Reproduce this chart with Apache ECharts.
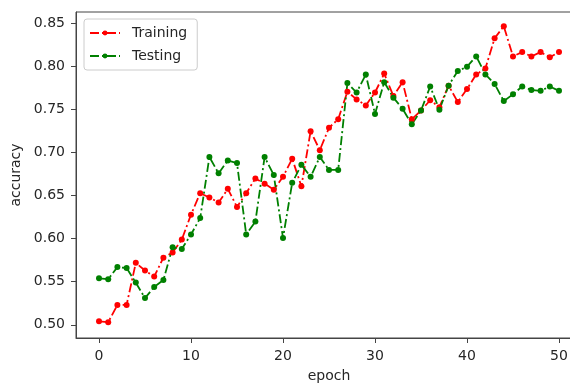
<!DOCTYPE html>
<html>
<head>
<meta charset="utf-8">
<script src="https://cdn.jsdelivr.net/npm/echarts@6/dist/echarts.min.js"></script>
<style>
  html, body { margin: 0; padding: 0; background: #fff; overflow: hidden; }
  #ChartDom { width: 600px; height: 388px; }
</style>
</head>
<body>
<div id="ChartDom"></div>
<script>
// epochs and accuracies
const epochs = [0, 1, 2, 3, 4, 5, 6, 7, 8, 9, 10, 11, 12, 13, 14, 15, 16, 17, 18, 19, 20,
  21, 22, 23, 24, 25, 26, 27, 28, 29, 30, 31, 32, 33, 34, 35, 36, 37, 38, 39, 40,
  41, 42, 43, 44, 45, 46, 47, 48, 49, 50]
const training = [0.504, 0.503, 0.523, 0.523, 0.572, 0.563, 0.556, 0.578, 0.584, 0.599, 0.628,
  0.653, 0.648, 0.642, 0.658, 0.637, 0.653, 0.670, 0.664, 0.657, 0.672,
  0.693, 0.661, 0.725, 0.703, 0.729, 0.739, 0.771, 0.762, 0.755, 0.770,
  0.792, 0.766, 0.782, 0.739, 0.749, 0.761, 0.753, 0.778, 0.759, 0.774,
  0.791, 0.798, 0.833, 0.847, 0.812, 0.817, 0.812, 0.817, 0.811, 0.817]
const testing = [0.554, 0.553, 0.567, 0.566, 0.549, 0.531, 0.544, 0.552, 0.590, 0.588, 0.605,
  0.624, 0.695, 0.676, 0.691, 0.688, 0.605, 0.620, 0.695, 0.674, 0.601,
  0.665, 0.686, 0.672, 0.695, 0.680, 0.680, 0.781, 0.770, 0.791, 0.745,
  0.782, 0.764, 0.751, 0.733, 0.749, 0.777, 0.750, 0.778, 0.795, 0.800,
  0.812, 0.791, 0.780, 0.760, 0.768, 0.777, 0.773, 0.772, 0.777, 0.772]
const xTicks = [0, 10, 20, 30, 40, 50]
const yTicks = [0.50, 0.55, 0.60, 0.65, 0.70, 0.75, 0.80, 0.85]

const font = "DejaVu Sans"
const textColor = "#262626"
const spineColor = "#444"
const dashDot = [9, 3, 2, 3]

const chart = echarts.init(document.getElementById("ChartDom"))

function pairs(ys) {
  return epochs.map((e, i) => [e, ys[i]])
}

chart.setOption({
  animation: false,
  textStyle: { fontFamily: font },
  legend: {
    orient: "vertical",
    left: 84,
    top: 19,
    padding: [7, 10, 7, 5],
    itemGap: 9,
    itemWidth: 30,
    itemHeight: 6,
    backgroundColor: "#fff",
    borderColor: "#ccc",
    borderWidth: 1,
    borderRadius: 3,
    textStyle: { fontFamily: font, fontSize: 14, color: textColor, padding: [0, 0, 0, 7] },
    data: ["Training", "Testing"],
  },
  grid: {
    left: 76, top: 12, width: 506, height: 330,
    show: true, borderColor: spineColor, borderWidth: 1, backgroundColor: "#fff",
  },
  xAxis: {
    type: "value",
    min: -2.5, max: 52.5,
    name: "epoch",
    nameLocation: "middle",
    nameGap: 31,
    nameTextStyle: { fontFamily: font, fontSize: 14, color: textColor },
    axisLine: { show: true, onZero: false, lineStyle: { color: spineColor } },
    axisTick: { show: true, inside: false, length: 5, customValues: xTicks, lineStyle: { color: spineColor } },
    axisLabel: { customValues: xTicks, fontFamily: font, fontSize: 14, color: textColor, margin: 11 },
    splitLine: { show: false },
  },
  yAxis: {
    type: "value",
    min: 0.4846, max: 0.8636,
    name: "accuracy",
    nameLocation: "middle",
    nameGap: 53,
    nameTextStyle: { fontFamily: font, fontSize: 14, color: textColor },
    axisLine: { show: true, onZero: false, lineStyle: { color: spineColor } },
    axisTick: { show: true, inside: false, length: 5, customValues: yTicks, lineStyle: { color: spineColor } },
    axisLabel: {
      customValues: yTicks, fontFamily: font, fontSize: 14, color: textColor, margin: 11,
      formatter: (v) => v.toFixed(2),
    },
    splitLine: { show: false },
  },
  series: [
    {
      name: "Training",
      type: "line",
      data: pairs(training),
      symbol: "circle",
      symbolSize: 6,
      showAllSymbol: true,
      itemStyle: { color: "#ff0000" },
      lineStyle: { color: "#ff0000", width: 1.8, type: dashDot },
    },
    {
      name: "Testing",
      type: "line",
      data: pairs(testing),
      symbol: "circle",
      symbolSize: 6,
      showAllSymbol: true,
      itemStyle: { color: "#008000" },
      lineStyle: { color: "#008000", width: 1.8, type: dashDot },
    },
  ],
})
</script>
</body>
</html>
